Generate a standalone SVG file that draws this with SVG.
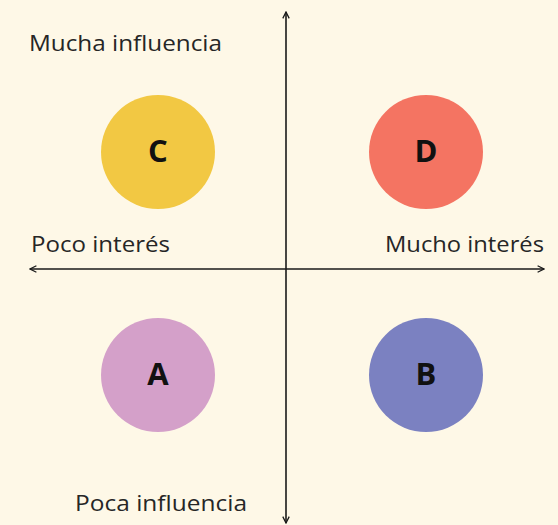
<svg xmlns="http://www.w3.org/2000/svg" width="558" height="525" viewBox="0 0 558 525">
<defs>
<style>
.lbl{font-family:"Open Sans","Lato",sans-serif;font-size:21px;fill:#262626}
.let{font-family:"Open Sans","Lato",sans-serif;font-size:31px;font-weight:bold;fill:#111;text-anchor:middle}
.ax{stroke:#1a1a1a;stroke-width:1.6;fill:none}
</style>
<marker id="ah" viewBox="0 0 10 10" refX="9" refY="5" markerWidth="8" markerHeight="8" markerUnits="userSpaceOnUse" orient="auto-start-reverse"><path d="M1,1 L9,5 L1,9" fill="none" stroke="#1a1a1a" stroke-width="1.6"/></marker>
</defs>
<rect width="558" height="525" fill="#FEF8E7"/>
<g id="connectors">
<line class="ax" x1="286" y1="523" x2="286" y2="12" marker-start="url(#ah)" marker-end="url(#ah)"/>
<line class="ax" x1="30" y1="269" x2="544" y2="269" marker-start="url(#ah)" marker-end="url(#ah)"/>
</g>
<g id="labels">
<text class="lbl" x="29" y="51" textLength="193" lengthAdjust="spacingAndGlyphs">Mucha influencia</text>
<text class="lbl" x="31" y="252" textLength="139" lengthAdjust="spacingAndGlyphs">Poco interés</text>
<text class="lbl" x="385" y="252" textLength="159" lengthAdjust="spacingAndGlyphs">Mucho interés</text>
<text class="lbl" x="75" y="511" textLength="172" lengthAdjust="spacingAndGlyphs">Poca influencia</text>
</g>
<g id="node-C"><circle cx="158" cy="152" r="57" fill="#F2C843"/><text class="let" x="158" y="162">C</text></g>
<g id="node-D"><circle cx="426" cy="152" r="57" fill="#F47462"/><text class="let" x="426" y="162">D</text></g>
<g id="node-A"><circle cx="158" cy="375" r="57" fill="#D4A0C9"/><text class="let" x="158" y="385">A</text></g>
<g id="node-B"><circle cx="426" cy="375" r="57" fill="#7B81C1"/><text class="let" x="426" y="385">B</text></g>
</svg>
